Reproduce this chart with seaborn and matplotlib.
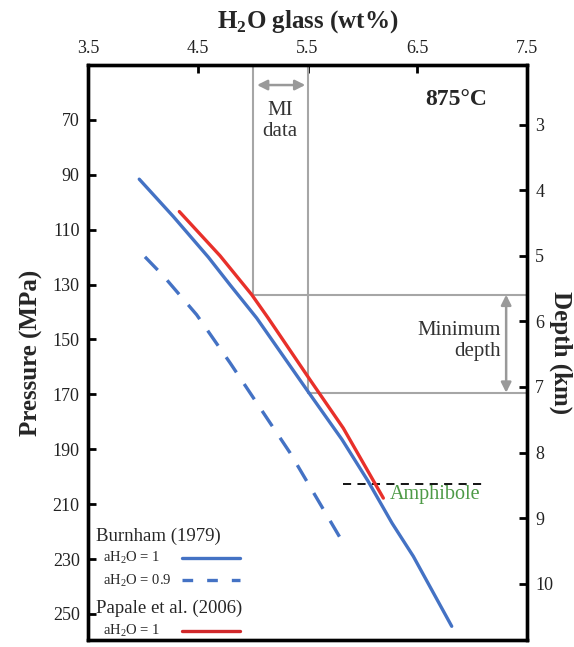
import matplotlib
matplotlib.use("Agg")
import matplotlib.pyplot as plt
import seaborn as sns
import pandas as pd

# Burnham (1979), aH2O = 1
burnham1_h2o = [3.967, 4.277, 4.596, 4.794, 5.037, 5.493, 5.815, 6.050, 6.270, 6.464, 6.814]
burnham1_p = [91.6, 105.2, 120.0, 130.1, 142.2, 168.3, 186.5, 201.5, 216.9, 229.0, 254.5]
# Burnham (1979), aH2O = 0.9
burnham09_h2o = [4.019, 4.186, 4.490, 4.794, 5.341, 5.823]
burnham09_p = [119.9, 126.8, 141.0, 158.5, 191.3, 224.0]
# Papale et al. (2006), aH2O = 1
papale_h2o = [4.332, 4.703, 4.992, 5.140, 5.523, 5.826, 6.191]
papale_p = [103.4, 119.5, 133.7, 142.1, 164.7, 182.3, 207.8]

mi_h2o = [5.0, 5.5]
mi_p = [133.7, 169.4]
amph_p = 202.6
amph_h2o = [5.82, 7.12]

p_ticks = list(range(70, 251, 20))
h2o_ticks = [3.5, 4.5, 5.5, 6.5, 7.5]
depth_ticks = list(range(3, 11))
mpa_per_km = 23.9
p_lim = (259.5, 50)

sns.set_style("ticks")
plt.rcParams['font.family'] = ['Liberation Serif', 'DejaVu Serif']
plt.rcParams['mathtext.fontset'] = 'custom'
plt.rcParams['mathtext.rm'] = 'Liberation Serif'
plt.rcParams['mathtext.bf'] = 'Liberation Serif:bold'

blue = "#4472c4"
red = "#e8302a"
gray = "#a6a6a6"
green = "#4e9a47"

fig = plt.figure(figsize=(5.74, 6.47), dpi=100)
ax = fig.add_axes([88/574, 1-640/647, 439/574, 575/647])

d1 = pd.DataFrame({"h2o": burnham1_h2o, "p": burnham1_p})
d2 = pd.DataFrame({"h2o": burnham09_h2o, "p": burnham09_p})
d3 = pd.DataFrame({"h2o": papale_h2o, "p": papale_p})

# gray MI guide lines
ax.plot([mi_h2o[0], mi_h2o[0]], [p_lim[1], mi_p[0]], color=gray, lw=1.5, zorder=1)
ax.plot([mi_h2o[1], mi_h2o[1]], [p_lim[1], mi_p[1]], color=gray, lw=1.5, zorder=1)
ax.plot([mi_h2o[0], 7.5], [mi_p[0], mi_p[0]], color=gray, lw=1.5, zorder=1)
ax.plot([mi_h2o[1], 7.5], [mi_p[1], mi_p[1]], color=gray, lw=1.5, zorder=1)

sns.lineplot(data=d3, x="h2o", y="p", sort=False, estimator=None, ax=ax,
             color=red, lw=2.4, zorder=3)
sns.lineplot(data=d1, x="h2o", y="p", sort=False, estimator=None, ax=ax,
             color=blue, lw=2.4, zorder=4)
sns.lineplot(data=d2, x="h2o", y="p", sort=False, estimator=None, ax=ax,
             color=blue, lw=2.4, linestyle=(0, (5.5, 4.2)), zorder=4)

ax.plot(amph_h2o, [amph_p, amph_p], color="black", lw=1.3,
        linestyle=(0, (4.5, 3.5)), zorder=2)
ax.text(6.25, 206.6, "Amphibole", color=green, fontsize=14.5,
        ha="left", va="center")

# arrows
ax.annotate("", xy=(5.04, 57.3), xytext=(5.48, 57.3),
            arrowprops=dict(arrowstyle="<|-|>", color="#999999", lw=1.8,
                            mutation_scale=15, shrinkA=0, shrinkB=0))
ax.text(5.25, 70.4, "MI\ndata", ha="center", va="center", fontsize=15,
        color="#333333", linespacing=1.1)
ax.annotate("", xy=(7.31, mi_p[0]), xytext=(7.31, mi_p[1]),
            arrowprops=dict(arrowstyle="<|-|>", color="#999999", lw=1.8,
                            mutation_scale=15, shrinkA=0, shrinkB=0))
ax.text(7.26, 150.5, "Minimum\ndepth", ha="right", va="center", fontsize=15,
        color="#333333", linespacing=1.1, multialignment="right")

ax.text(7.14, 62.7, "875°C", ha="right", va="center", fontsize=17,
        fontweight="bold")

# manual legend
tA = ax.transAxes
ax.text(0.018, 0.181, "Burnham (1979)", transform=tA, fontsize=13.5,
        ha="left", va="center")
ax.text(0.034, 0.143, "aH$_2$O = 1", transform=tA, fontsize=10.5,
        ha="left", va="center")
ax.plot([0.214, 0.346], [0.143, 0.143], transform=tA, color=blue, lw=2.4)
ax.text(0.034, 0.104, "aH$_2$O = 0.9", transform=tA, fontsize=10.5,
        ha="left", va="center")
ax.plot([0.214, 0.346], [0.104, 0.104], transform=tA, color=blue, lw=2.4,
        linestyle=(0, (3.2, 4.2)))
ax.text(0.018, 0.0557, "Papale et al. (2006)", transform=tA, fontsize=13.5,
        ha="left", va="center")
ax.text(0.034, 0.0165, "aH$_2$O = 1", transform=tA, fontsize=10.5,
        ha="left", va="center")
ax.plot([0.214, 0.346], [0.0165, 0.0165], transform=tA, color="#d0282a", lw=2.4)

ax.set_xlim(3.5, 7.5)
ax.set_ylim(*p_lim)
ax.xaxis.tick_top()
ax.xaxis.set_label_position("top")
ax.set_xticks(h2o_ticks)
ax.set_xticklabels([f"{t:.1f}" for t in h2o_ticks])
ax.set_yticks(p_ticks)
ax.set_xlabel(r"H$_\mathbf{2}$O glass (wt%)", fontsize=18, fontweight="bold",
              labelpad=9)
ax.set_ylabel("Pressure (MPa)", fontsize=18, fontweight="bold", labelpad=7)
ax.tick_params(direction="in", length=6, width=2, labelsize=13, color="black",
               labelcolor="#222222", pad=6)

ax2 = ax.twinx()
ax2.set_ylim(p_lim[0] / mpa_per_km, p_lim[1] / mpa_per_km)
ax2.set_yticks(depth_ticks)
ax2.set_ylabel("Depth (km)", fontsize=18, fontweight="bold", rotation=-90,
               labelpad=14)
ax2.tick_params(direction="in", length=6, width=2, labelsize=13, color="black",
                labelcolor="#222222", pad=6)

for a in (ax, ax2):
    for s in a.spines.values():
        s.set_linewidth(2.4)
        s.set_color("black")
        s.set_visible(True)

fig.savefig("out.png", dpi=100)
